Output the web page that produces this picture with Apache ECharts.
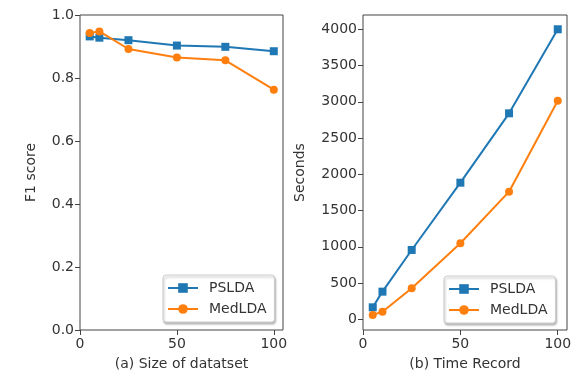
<!DOCTYPE html>
<html>
<head>
<meta charset="utf-8">
<script src="https://cdn.jsdelivr.net/npm/echarts@6/dist/echarts.min.js"></script>
<style>
html,body{margin:0;padding:0;background:#fff;}
#c{width:588px;height:376px;}
</style>
</head>
<body>
<div id="c"></div>
<script>
// Data
const xValues = [5, 10, 25, 50, 75, 100];
const f1PSLDA = [0.932, 0.928, 0.920, 0.903, 0.899, 0.885];
const f1MedLDA = [0.943, 0.948, 0.892, 0.865, 0.856, 0.763];
const timePSLDA = [165, 381, 956, 1884, 2841, 4000];
const timeMedLDA = [59, 105, 428, 1048, 1760, 3015];
const xTicks = [0, 50, 100];
const f1Ticks = [0, 0.2, 0.4, 0.6, 0.8, 1.0];
const timeTicks = [0, 500, 1000, 1500, 2000, 2500, 3000, 3500, 4000];
const seriesNames = ['PSLDA', 'MedLDA'];
const xTitles = ['(a) Size of datatset', '(b) Time Record'];
const yTitles = ['F1 score', 'Seconds'];

const BLUE = '#1f77b4', ORANGE = '#ff7f0e';
const FONT = 'DejaVu Sans';
const FS = 14;
const pairs = (xs, ys) => xs.map((x, i) => [x, ys[i]]);

const axisCommon = {
  axisLine: {show: false, onZero: false},
  axisTick: {show: true, inside: false, length: 5, lineStyle: {color: '#444', width: 1}},
  splitLine: {show: false},
  axisLabel: {color: '#333', fontFamily: FONT, fontSize: FS, margin: 6},
  nameTextStyle: {color: '#333', fontFamily: FONT, fontSize: FS}
};

function xAxisFor(idx) {
  return Object.assign({}, axisCommon, {
    type: 'value', gridIndex: idx, min: 0, max: 104.75,
    name: xTitles[idx], nameLocation: 'middle', nameGap: 27,
    axisTick: Object.assign({}, axisCommon.axisTick, {customValues: xTicks}),
    axisLabel: Object.assign({}, axisCommon.axisLabel, {customValues: xTicks, margin: 7, formatter: v => String(v)})
  });
}

const legendCommon = {
  orient: 'vertical',
  data: seriesNames,
  backgroundColor: '#fff',
  borderColor: '#ccc',
  borderWidth: 1,
  borderRadius: 3,
  padding: [6, 8, 6, 4],
  itemWidth: 30,
  itemHeight: 12,
  itemGap: 7,
  shadowColor: 'rgba(0,0,0,0.25)',
  shadowBlur: 2,
  shadowOffsetX: 1,
  shadowOffsetY: 2,
  textStyle: {color: '#333', fontFamily: FONT, fontSize: FS, padding: [0, 0, 0, 6]}
};

function lineSeries(name, symbol, color, xIdx, xs, ys, z) {
  return {
    name: name, type: 'line', xAxisIndex: xIdx, yAxisIndex: xIdx,
    data: pairs(xs, ys), symbol: symbol, symbolSize: 8, showSymbol: true,
    z: z,
    itemStyle: {color: color}, lineStyle: {color: color, width: 2}
  };
}

const chart = echarts.init(document.getElementById('c'), null, {renderer: 'canvas'});
chart.setOption({
  animation: false,
  backgroundColor: '#fff',
  textStyle: {fontFamily: FONT},
  grid: [
    {left: 80, top: 15, width: 203, height: 315, show: true, borderColor: '#444', borderWidth: 1, backgroundColor: 'transparent'},
    {left: 363, top: 15, width: 204, height: 315, show: true, borderColor: '#444', borderWidth: 1, backgroundColor: 'transparent'}
  ],
  xAxis: [xAxisFor(0), xAxisFor(1)],
  yAxis: [
    Object.assign({}, axisCommon, {
      type: 'value', gridIndex: 0, min: 0, max: 1, interval: 0.2,
      name: yTitles[0], nameLocation: 'middle', nameRotate: 90, nameGap: 42,
      axisLabel: Object.assign({}, axisCommon.axisLabel, {formatter: v => v.toFixed(1)})
    }),
    Object.assign({}, axisCommon, {
      type: 'value', gridIndex: 1, min: -148, max: 4197,
      name: yTitles[1], nameLocation: 'middle', nameRotate: 90, nameGap: 56,
      axisTick: Object.assign({}, axisCommon.axisTick, {customValues: timeTicks}),
      axisLabel: Object.assign({}, axisCommon.axisLabel, {customValues: timeTicks, formatter: v => String(v)})
    })
  ],
  legend: [
    Object.assign({}, legendCommon, {left: 163, top: 275}),
    Object.assign({}, legendCommon, {left: 444, top: 276})
  ],
  series: [
    lineSeries(seriesNames[0], 'rect', BLUE, 0, xValues, f1PSLDA, 2),
    lineSeries(seriesNames[1], 'circle', ORANGE, 0, xValues, f1MedLDA, 3),
    lineSeries(seriesNames[0], 'rect', BLUE, 1, xValues, timePSLDA, 2),
    lineSeries(seriesNames[1], 'circle', ORANGE, 1, xValues, timeMedLDA, 3)
  ]
});
</script>
</body>
</html>
